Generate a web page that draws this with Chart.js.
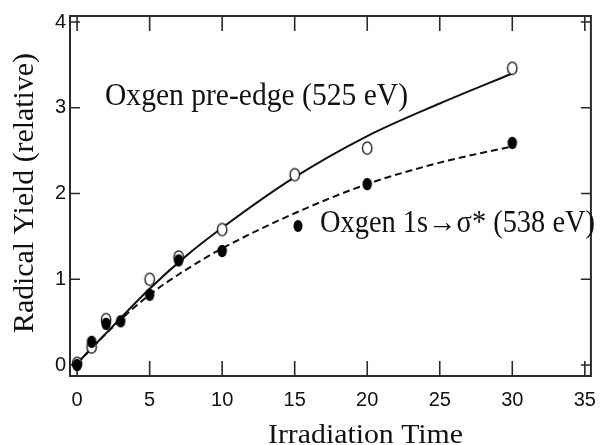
<!DOCTYPE html>
<html>
<head>
<meta charset="utf-8">
<script src="https://cdn.jsdelivr.net/npm/chart.js@4.4.1/dist/chart.umd.min.js"></script>
<style>
  html, body { margin: 0; padding: 0; background: #fff; }
  canvas { display: block; }
</style>
</head>
<body>
<canvas id="chart" width="608" height="445"></canvas>
<script>
// Measured radical yield, oxygen pre-edge (open circles)
const preEdgeTime = [0, 1, 2, 5, 7, 10, 15, 20, 30];
const preEdgeYield = [0.02, 0.21, 0.53, 1.0, 1.26, 1.58, 2.22, 2.53, 3.46];

// Measured radical yield, oxygen 1s -> sigma* (filled circles)
const sigmaTime = [0, 1, 2, 3, 5, 7, 10, 20, 30];
const sigmaYield = [0.0, 0.27, 0.48, 0.51, 0.82, 1.22, 1.33, 2.11, 2.59];

// Fitted curves
const fitTime = [0, 2.5, 5, 7.5, 10, 15, 20, 25, 30];
const fitPreEdge = [0.02, 0.46, 0.89, 1.27, 1.6, 2.19, 2.67, 3.05, 3.40];
const fitSigma = [0.02, 0.45, 0.82, 1.11, 1.36, 1.77, 2.11, 2.36, 2.55];

const xTicks = [0, 5, 10, 15, 20, 25, 30, 35];
const yTicks = [0, 1, 2, 3, 4];

const toPoints = (xs, ys) => xs.map((x, i) => ({ x, y: ys[i] }));

// slightly tall elliptical markers
function marker(filled) {
  const c = document.createElement("canvas");
  c.width = 14; c.height = 16;
  const g = c.getContext("2d");
  g.beginPath();
  g.ellipse(7, 8, 4.7, 6.2, 0, 0, Math.PI * 2);
  if (filled) {
    g.fillStyle = "#000";
    g.fill();
  } else {
    g.fillStyle = "#fff";
    g.fill();
    g.lineWidth = 1.3;
    g.strokeStyle = "#111";
    g.stroke();
  }
  return c;
}

// draw text squeezed/stretched to a given width
function fitText(ctx, text, x, y, width, align, rotate) {
  const w = ctx.measureText(text).width;
  ctx.save();
  ctx.translate(x, y);
  if (rotate) ctx.rotate(-Math.PI / 2);
  ctx.scale(width / w, 1);
  ctx.textAlign = align;
  ctx.textBaseline = "alphabetic";
  ctx.fillText(text, 0, 0);
  ctx.restore();
}

const framePlugin = {
  id: "frame",
  beforeDatasetsDraw(chart) {
    const { ctx, chartArea: a, scales: { x, y } } = chart;
    ctx.save();
    ctx.strokeStyle = "#2a2a2a";
    ctx.lineWidth = 2;
    ctx.strokeRect(a.left, a.top, a.right - a.left, a.bottom - a.top);
    ctx.lineWidth = 1.6;
    ctx.beginPath();
    xTicks.forEach(v => {
      const px = x.getPixelForValue(v);
      ctx.moveTo(px, a.bottom); ctx.lineTo(px, a.bottom - 15);
      ctx.moveTo(px, a.top); ctx.lineTo(px, a.top + 15);
    });
    yTicks.forEach(v => {
      const py = y.getPixelForValue(v);
      ctx.moveTo(a.left, py); ctx.lineTo(a.left + 10, py);
      ctx.moveTo(a.right, py); ctx.lineTo(a.right - 10, py);
    });
    ctx.stroke();
    ctx.restore();
  },
  afterDraw(chart) {
    const ctx = chart.ctx;
    ctx.save();
    ctx.fillStyle = "#111";

    ctx.font = "29px 'Liberation Serif'";
    fitText(ctx, "Radical Yield (relative)", 32.5, 193, 280, "center", true);
    ctx.font = "28px 'Liberation Serif'";
    fitText(ctx, "Irradiation Time", 365.5, 442.5, 195, "center", false);

    ctx.font = "31px 'Liberation Serif'";
    fitText(ctx, "Oxgen pre-edge (525 eV)", 105, 105, 303, "left", false);

    ctx.beginPath();
    ctx.ellipse(298, 226, 4.5, 6, 0, 0, Math.PI * 2);
    ctx.fillStyle = "#000";
    ctx.fill();
    ctx.fillStyle = "#111";
    fitText(ctx, "Oxgen 1s\u2192\u03c3* (538 eV)", 320, 232, 275, "left", false);
    ctx.restore();
  }
};

new Chart(document.getElementById("chart"), {
  type: "scatter",
  data: {
    datasets: [
      {
        data: toPoints(preEdgeTime, preEdgeYield),
        pointStyle: marker(false),
        order: 1
      },
      {
        data: toPoints(sigmaTime, sigmaYield),
        pointStyle: marker(true),
        order: 0
      },
      {
        data: toPoints(fitTime, fitPreEdge),
        showLine: true,
        borderColor: "#111",
        borderWidth: 2,
        pointRadius: 0,
        cubicInterpolationMode: "monotone",
        order: 3
      },
      {
        data: toPoints(fitTime, fitSigma),
        showLine: true,
        borderColor: "#111",
        borderWidth: 2,
        borderDash: [7, 4],
        pointRadius: 0,
        cubicInterpolationMode: "monotone",
        order: 2
      }
    ]
  },
  options: {
    responsive: false,
    animation: false,
    devicePixelRatio: 1,
    layout: { padding: { top: 14, right: 5, left: 0, bottom: 0 } },
    plugins: { legend: { display: false }, tooltip: { enabled: false } },
    scales: {
      x: {
        type: "linear",
        min: -0.49,
        max: 35.42,
        afterBuildTicks: s => { s.ticks = xTicks.map(v => ({ value: v })); },
        afterFit: s => { s.height = 69; },
        grid: { display: false, drawTicks: false },
        border: { display: false },
        ticks: {
          padding: 12,
          maxRotation: 0,
          color: "#111",
          font: { family: "'Liberation Sans'", size: 20 }
        }
      },
      y: {
        type: "linear",
        min: -0.128,
        max: 4.07,
        afterBuildTicks: s => { s.ticks = yTicks.map(v => ({ value: v })); },
        afterFit: s => { s.width = 70; },
        grid: { display: false, drawTicks: false },
        border: { display: false },
        ticks: {
          padding: 4,
          color: "#111",
          font: { family: "'Liberation Sans'", size: 20 }
        }
      }
    }
  },
  plugins: [framePlugin]
});
</script>
</body>
</html>
